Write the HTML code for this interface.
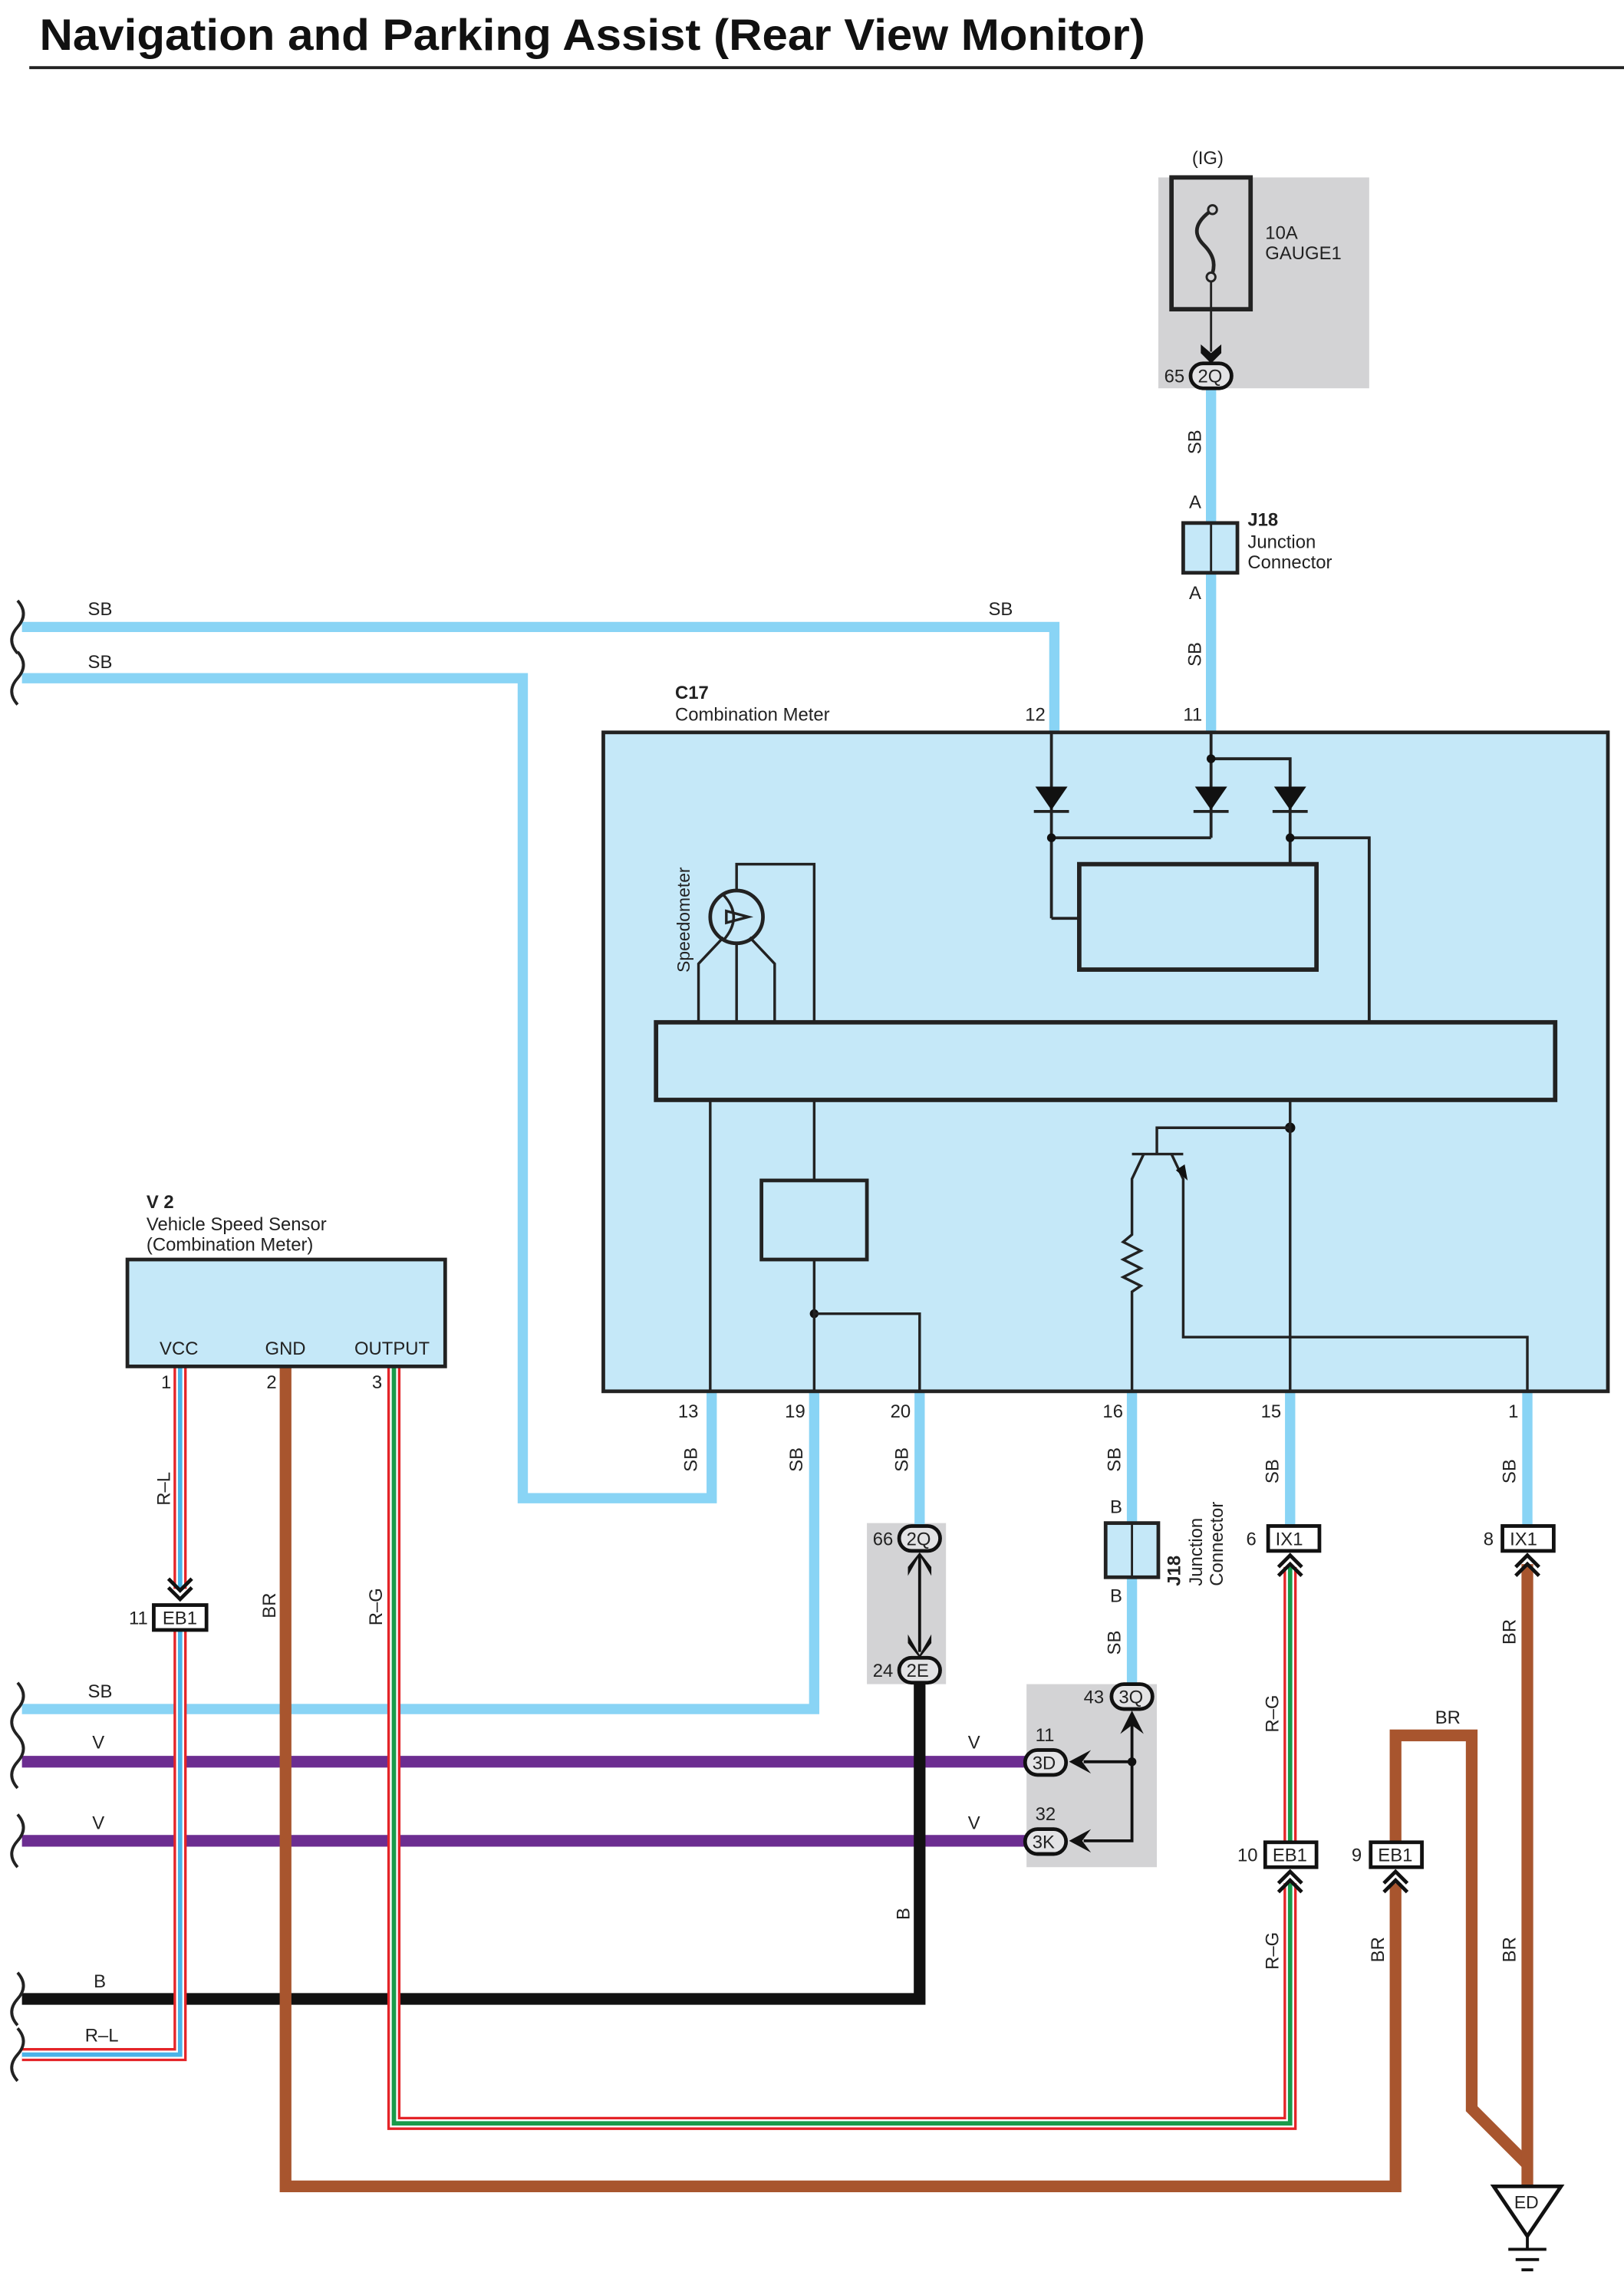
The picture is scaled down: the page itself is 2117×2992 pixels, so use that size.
<!DOCTYPE html>
<html><head><meta charset="utf-8"><style>
html,body{margin:0;padding:0;background:#fff}
svg{display:block}
text{font-family:"Liberation Sans",sans-serif;font-size:12.5px;fill:#222}
.b{font-weight:bold}
</style></head><body>
<svg width="2117" height="2992" viewBox="0 0 1109 1567" xmlns="http://www.w3.org/2000/svg">
<defs>
<g id="chevD"><polygon points="-7,-9 0,-3 7,-9 7,-3 0,4 -7,-3" fill="#111"/></g>
</defs>
<!-- title -->
<text x="27" y="34" class="b" textLength="755" lengthAdjust="spacingAndGlyphs" style="font-size:30px;fill:#111">Navigation and Parking Assist (Rear View Monitor)</text>
<line x1="20" y1="46" x2="1109" y2="46" stroke="#222" stroke-width="2"/>

<!-- grey boxes -->
<rect x="791" y="121" width="144" height="144" fill="#d3d3d5"/>
<rect x="592" y="1040" width="54" height="110" fill="#d3d3d5"/>
<rect x="701" y="1150" width="89" height="125" fill="#d3d3d5"/>

<!-- fuse -->
<text x="814" y="112">(IG)</text>
<rect x="800" y="121" width="54" height="90" fill="none" stroke="#222" stroke-width="3"/>
<path d="M828,143 C815,152 815,160 822,167 C830,175 830,182 827,189" fill="none" stroke="#222" stroke-width="2.5"/>
<circle cx="828" cy="143" r="3" fill="#d3d3d5" stroke="#222" stroke-width="1.5"/>
<circle cx="827" cy="189" r="3" fill="#d3d3d5" stroke="#222" stroke-width="1.5"/>
<line x1="827" y1="192" x2="827" y2="240" stroke="#222" stroke-width="1.5"/>
<use href="#chevD" x="827" y="244"/>
<text x="864" y="163">10A</text><text x="864" y="177">GAUGE1</text>

<!-- SB wires (light blue) -->
<g fill="none" stroke="#89d4f5" stroke-width="7">
<polyline points="15,428 720,428 720,500"/>
<polyline points="15,463 357,463 357,1023 486,1023 486,950"/>
<line x1="827" y1="264" x2="827" y2="500"/>
<polyline points="556,950 556,1167 15,1167"/>
<line x1="628" y1="950" x2="628" y2="1045"/>
<line x1="773" y1="950" x2="773" y2="1152"/>
<line x1="881" y1="950" x2="881" y2="1045"/>
<line x1="1043" y1="950" x2="1043" y2="1045"/>
</g>
<!-- V wires -->
<g stroke="#6c2d91" stroke-width="8">
<line x1="15" y1="1203" x2="703" y2="1203"/>
<line x1="15" y1="1257" x2="703" y2="1257"/>
</g>
<!-- B wire -->
<polyline points="628,1148 628,1365 15,1365" fill="none" stroke="#111" stroke-width="8"/>
<!-- BR wires -->
<g fill="none" stroke="#a8552e" stroke-width="8">
<polyline points="195,933 195,1493 953,1493 953,1286"/>
<polyline points="953,1258 953,1185 1005,1185 1005,1440 1043,1478"/>
<line x1="1043" y1="1068" x2="1043" y2="1495"/>
</g>
<!-- R-L wire -->
<g fill="none">
<polyline points="123,933 123,1085" stroke="#e42428" stroke-width="9"/>
<polyline points="123,933 123,1085" stroke="#fff" stroke-width="5.5"/>
<polyline points="123,933 123,1085" stroke="#4ab3e8" stroke-width="3"/>
<polyline points="123,1112 123,1403 15,1403" stroke="#e42428" stroke-width="9"/>
<polyline points="123,1112 123,1403 15,1403" stroke="#fff" stroke-width="5.5"/>
<polyline points="123,1112 123,1403 15,1403" stroke="#4ab3e8" stroke-width="3"/>
</g>
<!-- R-G wires -->
<g fill="none">
<polyline points="269,933 269,1450 881,1450 881,1286" stroke="#e42428" stroke-width="9"/>
<polyline points="269,933 269,1450 881,1450 881,1286" stroke="#fff" stroke-width="5.5"/>
<polyline points="269,933 269,1450 881,1450 881,1286" stroke="#1a9a4a" stroke-width="3"/>
<line x1="881" y1="1070" x2="881" y2="1258" stroke="#e42428" stroke-width="9"/>
<line x1="881" y1="1070" x2="881" y2="1258" stroke="#fff" stroke-width="5.5"/>
<line x1="881" y1="1070" x2="881" y2="1258" stroke="#1a9a4a" stroke-width="3"/>
</g>

<!-- wavy break marks -->
<g fill="none" stroke="#222" stroke-width="2">
<path d="M12,410 q8,9 0,18 q-8,9 0,18"/>
<path d="M12,445 q8,9 0,18 q-8,9 0,18"/>
<path d="M12,1149 q8,9 0,18 q-8,9 0,18"/>
<path d="M12,1185 q8,9 0,18 q-8,9 0,18"/>
<path d="M12,1239 q8,9 0,18 q-8,9 0,18"/>
<path d="M12,1347 q8,9 0,18 q-8,9 0,18"/>
<path d="M12,1385 q8,9 0,18 q-8,9 0,18"/>
</g>

<!-- J18 top -->
<rect x="808" y="357" width="37" height="34" fill="#c5e8f8" stroke="#222" stroke-width="2.5"/>
<line x1="827" y1="357" x2="827" y2="391" stroke="#222" stroke-width="1.5"/>
<text x="812" y="347">A</text><text x="812" y="409">A</text>
<text x="852" y="359" class="b">J18</text><text x="852" y="374">Junction</text><text x="852" y="388">Connector</text>

<!-- C17 box -->
<text x="461" y="477" class="b">C17</text><text x="461" y="492">Combination Meter</text>
<text x="700" y="492">12</text><text x="808" y="492">11</text>
<rect x="412" y="500" width="686" height="450" fill="#c5e8f8" stroke="#222" stroke-width="2.5"/>
<g fill="none" stroke="#222" stroke-width="2">
<line x1="718" y1="500" x2="718" y2="627"/>
<line x1="827" y1="500" x2="827" y2="572"/>
<polyline points="827,518 881,518 881,590"/>
<line x1="718" y1="572" x2="827" y2="572"/>
<line x1="718" y1="627" x2="737" y2="627"/>
<polyline points="881,572 935,572 935,698"/>
<line x1="706" y1="554" x2="730" y2="554"/><line x1="815" y1="554" x2="839" y2="554"/><line x1="869" y1="554" x2="893" y2="554"/>
</g>
<g fill="#111">
<polygon points="707,537 729,537 718,553"/><polygon points="816,537 838,537 827,553"/><polygon points="870,537 892,537 881,553"/>
<circle cx="827" cy="518" r="3"/><circle cx="718" cy="572" r="3"/><circle cx="881" cy="572" r="3"/>
<circle cx="881" cy="770" r="3.5"/><circle cx="556" cy="897" r="3"/>
</g>
<rect x="737" y="590" width="162" height="72" fill="none" stroke="#222" stroke-width="3"/>
<rect x="448" y="698" width="614" height="53" fill="none" stroke="#222" stroke-width="3"/>
<!-- speedometer -->
<text transform="translate(471,664) rotate(-90)" style="font-size:12px">Speedometer</text>
<ellipse cx="503" cy="626" rx="18" ry="18" fill="none" stroke="#222" stroke-width="2.5"/>
<g fill="none" stroke="#222" stroke-width="1.8">
<path d="M494,611 q14,15 0,31"/>
<polygon points="496,622 496,630 511,626"/>
<polyline points="494,640 477,658 477,698"/>
<line x1="503" y1="644" x2="503" y2="698"/>
<polyline points="512,640 529,658 529,698"/>
<polyline points="503,608 503,590 556,590 556,698"/>
<line x1="485" y1="751" x2="485" y2="950"/>
<line x1="556" y1="751" x2="556" y2="806"/>
<line x1="556" y1="860" x2="556" y2="950"/>
<polyline points="556,897 628,897 628,950"/>
<polyline points="881,751 881,950"/>
<polyline points="790,788 790,770 881,770"/>
<line x1="773" y1="788" x2="808" y2="788"/>
<polyline points="781,788 773,805 773,843 767,848 779,854 767,860 779,866 767,872 779,878 773,882 773,950"/>
<polyline points="800,788 808,805 808,913 1043,913 1043,950"/>
</g>
<polygon points="803,799 811,806 809,795" fill="#111"/>
<rect x="520" y="806" width="72" height="54" fill="none" stroke="#222" stroke-width="2.5"/>
<text x="463" y="968">13</text><text x="536" y="968">19</text><text x="608" y="968">20</text>
<text x="753" y="968">16</text><text x="861" y="968">15</text><text x="1030" y="968">1</text>

<!-- V2 box -->
<text x="100" y="825" class="b">V 2</text><text x="100" y="840">Vehicle Speed Sensor</text><text x="100" y="854">(Combination Meter)</text>
<rect x="87" y="860" width="217" height="73" fill="#c5e8f8" stroke="#222" stroke-width="2.5"/>
<text x="109" y="925">VCC</text><text x="181" y="925">GND</text><text x="242" y="925">OUTPUT</text>
<text x="110" y="948">1</text><text x="182" y="948">2</text><text x="254" y="948">3</text>

<!-- connectors -->
<g stroke="#111" stroke-width="2.5" fill="#e3e3e5">
<rect x="813" y="248" width="28" height="17" rx="8.5"/>
<rect x="614" y="1042" width="28" height="17" rx="8.5"/>
<rect x="614" y="1132" width="28" height="17" rx="8.5"/>
<rect x="759" y="1150" width="28" height="17" rx="8.5"/>
<rect x="700" y="1195" width="28" height="17" rx="8.5"/>
<rect x="700" y="1249" width="28" height="17" rx="8.5"/>
</g>
<g fill="#fff" stroke="#111" stroke-width="2.5">
<rect x="105" y="1096" width="36" height="17"/>
<rect x="866" y="1042" width="35" height="17"/>
<rect x="1026" y="1042" width="35" height="17"/>
<rect x="864" y="1258" width="35" height="17"/>
<rect x="936" y="1258" width="35" height="17"/>
</g>
<g style="font-size:12.5px">
<text x="818" y="261">2Q</text><text x="795" y="261">65</text>
<text x="619" y="1055">2Q</text><text x="596" y="1055">66</text>
<text x="619" y="1145">2E</text><text x="596" y="1145">24</text>
<text x="764" y="1163">3Q</text><text x="740" y="1163">43</text>
<text x="705" y="1208">3D</text><text x="707" y="1189">11</text>
<text x="705" y="1262">3K</text><text x="707" y="1243">32</text>
<text x="111" y="1109">EB1</text><text x="88" y="1109">11</text>
<text x="871" y="1055">IX1</text><text x="851" y="1055">6</text>
<text x="1031" y="1055">IX1</text><text x="1013" y="1055">8</text>
<text x="869" y="1271">EB1</text><text x="845" y="1271">10</text>
<text x="941" y="1271">EB1</text><text x="923" y="1271">9</text>
</g>
<!-- J18 lower -->
<rect x="755" y="1040" width="36" height="37" fill="#c5e8f8" stroke="#222" stroke-width="2.5"/>
<line x1="773" y1="1040" x2="773" y2="1077" stroke="#222" stroke-width="1.5"/>
<text x="758" y="1033">B</text><text x="758" y="1094">B</text>
<text transform="translate(806,1083) rotate(-90)" class="b">J18</text>
<text transform="translate(821,1083) rotate(-90)">Junction</text>
<text transform="translate(835,1083) rotate(-90)">Connector</text>

<!-- internal connector lines/arrows -->
<g stroke="#111" stroke-width="2" fill="none">
<line x1="628" y1="1062" x2="628" y2="1128"/>
<polyline points="773,1172 773,1257 740,1257"/>
<line x1="773" y1="1203" x2="740" y2="1203"/>
</g>
<circle cx="773" cy="1203" r="3" fill="#111"/>
<g fill="#111">
<polygon points="620,1076 628,1062 636,1076 636,1070 628,1060 620,1070"/>
<polygon points="620,1116 628,1130 636,1116 636,1122 628,1132 620,1122"/>
<polygon points="765,1184 773,1168 781,1184 773,1178"/>
<polygon points="745,1195 730,1203 745,1211 739,1203"/>
<polygon points="745,1249 730,1257 745,1265 739,1257"/>
</g>
<g fill="none" stroke="#111" stroke-width="2.5">
<polyline points="115,1078 123,1086 131,1078"/><polyline points="115,1084 123,1092 131,1084"/>
<polyline points="873,1070 881,1062 889,1070"/><polyline points="873,1076 881,1068 889,1076"/>
<polyline points="1035,1070 1043,1062 1051,1070"/><polyline points="1035,1076 1043,1068 1051,1076"/>
<polyline points="873,1286 881,1278 889,1286"/><polyline points="873,1292 881,1284 889,1292"/>
<polyline points="945,1286 953,1278 961,1286"/><polyline points="945,1292 953,1284 961,1292"/>
</g>

<!-- ground ED -->
<polygon points="1020,1493 1066,1493 1043,1527" fill="#fff" stroke="#111" stroke-width="2.5"/>
<text x="1034" y="1508" style="font-size:12px">ED</text>
<g stroke="#111" stroke-width="2">
<line x1="1043" y1="1527" x2="1043" y2="1536"/>
<line x1="1030" y1="1536" x2="1056" y2="1536"/>
<line x1="1035" y1="1543" x2="1051" y2="1543"/>
<line x1="1039" y1="1550" x2="1047" y2="1550"/>
</g>

<!-- wire labels -->
<text x="60" y="420">SB</text><text x="675" y="420">SB</text>
<text x="60" y="456">SB</text>
<text x="60" y="1159">SB</text>
<text x="63" y="1194">V</text><text x="661" y="1194">V</text>
<text x="63" y="1249">V</text><text x="661" y="1249">V</text>
<text x="64" y="1357">B</text>
<text x="58" y="1394">R–L</text>
<text x="980" y="1177">BR</text>
<g>
<text transform="translate(820,310) rotate(-90)">SB</text>
<text transform="translate(820,455) rotate(-90)">SB</text>
<text transform="translate(476,1005) rotate(-90)">SB</text>
<text transform="translate(548,1005) rotate(-90)">SB</text>
<text transform="translate(620,1005) rotate(-90)">SB</text>
<text transform="translate(765,1005) rotate(-90)">SB</text>
<text transform="translate(873,1013) rotate(-90)">SB</text>
<text transform="translate(1035,1013) rotate(-90)">SB</text>
<text transform="translate(765,1130) rotate(-90)">SB</text>
<text transform="translate(116,1028) rotate(-90)">R–L</text>
<text transform="translate(188,1105) rotate(-90)">BR</text>
<text transform="translate(261,1110) rotate(-90)">R–G</text>
<text transform="translate(621,1311) rotate(-90)">B</text>
<text transform="translate(873,1183) rotate(-90)">R–G</text>
<text transform="translate(873,1345) rotate(-90)">R–G</text>
<text transform="translate(945,1340) rotate(-90)">BR</text>
<text transform="translate(1035,1123) rotate(-90)">BR</text>
<text transform="translate(1035,1340) rotate(-90)">BR</text>
</g>
</svg>
</body></html>
